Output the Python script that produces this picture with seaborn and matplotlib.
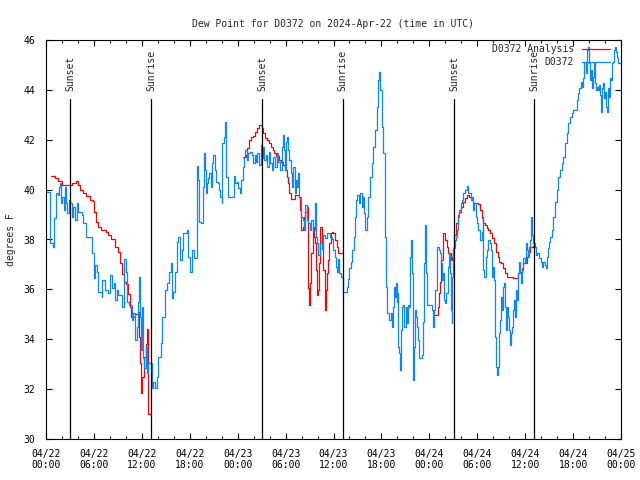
import numpy as np
import pandas as pd
import matplotlib
matplotlib.use('Agg')
import matplotlib.pyplot as plt
import matplotlib.dates as mdates
import matplotlib.transforms as mtransforms
from matplotlib.lines import Line2D
import seaborn as sns

# Hours since 2024-04-22 00:00 UTC, dew point (F)
station_day1 = [
    (0.0, 39.9), (0.5, 37.85), (0.85, 37.7), (1.0, 38.85), (1.25, 39.85), (1.45, 39.8), (1.67, 40.1),
    (1.8, 40.25), (1.92, 39.45), (2.05, 39.7), (2.25, 39.2), (2.35, 40.1), (2.45, 39.45), (2.6, 39.05),
    (2.84, 39.6), (3.0, 39.45), (3.2, 38.9), (3.4, 39.3), (3.6, 38.8), (3.84, 39.45), (4.05, 39.1),
    (4.5, 39.0), (4.67, 38.65), (4.97, 38.11), (5.72, 37.44), (6.01, 36.44), (6.14, 36.98), (6.35, 36.71),
    (6.55, 35.91), (6.97, 35.71), (7.05, 36.38), (7.39, 35.97), (7.72, 35.84), (8.01, 36.58), (8.22, 36.04),
    (8.51, 36.24), (8.64, 35.57), (8.85, 35.97), (9.06, 35.77), (9.47, 35.31), (9.81, 37.2), (9.97, 36.71),
    (10.18, 35.51), (10.43, 35.37), (10.73, 34.77), (10.85, 35.04), (11.14, 33.97), (11.35, 34.5),
    (11.56, 35.51), (11.68, 36.51), (11.77, 34.9), (11.9, 33.57), (12.06, 35.31), (12.19, 33.23),
    (12.31, 32.83), (12.52, 33.7), (12.6, 32.63), (12.73, 33.03), (13.23, 32.03), (13.44, 32.3),
    (13.65, 32.03), (13.86, 32.5), (14.07, 33.3), (14.36, 33.84), (14.57, 34.9), (14.9, 35.97),
    (15.11, 36.24), (15.4, 36.71), (15.65, 37.04), (15.82, 35.64), (15.94, 35.91), (16.15, 36.71),
    (16.36, 37.91), (16.57, 38.11), (16.78, 37.18), (16.99, 37.58), (17.2, 38.25), (17.61, 38.38),
    (17.82, 37.31), (18.03, 36.71), (18.24, 37.58), (18.53, 37.24), (18.87, 40.96), (19.07, 40.39),
    (19.2, 38.72), (19.45, 38.65), (19.6, 40.12), (19.78, 41.46), (19.9, 40.79), (20.0, 39.85),
    (20.1, 40.25), (20.3, 40.45), (20.45, 40.65), (20.6, 40.12), (20.75, 41.06), (20.95, 41.39),
    (21.1, 40.79), (21.3, 40.32), (21.5, 40.25), (21.7, 39.99), (21.85, 39.72), (22.0, 39.45),
    (22.1, 41.86), (22.25, 42.13), (22.4, 42.73), (22.5, 42.13), (22.6, 40.52), (22.8, 39.72),
    (23.5, 40.55), (23.66, 40.25), (23.87, 40.3),
]
station_day2 = [
    (24.08, 40.05), (24.29, 39.85), (24.42, 40.39), (24.63, 40.92), (24.79, 41.32), (24.96, 41.59),
    (25.13, 41.19), (25.34, 41.48), (25.54, 41.52), (25.75, 41.39), (25.96, 41.06), (26.17, 41.39),
    (26.3, 41.12), (26.46, 41.46), (26.71, 40.99), (26.88, 41.79), (27.0, 41.26), (27.21, 41.72),
    (27.34, 41.19), (27.55, 41.39), (27.72, 40.92), (27.88, 41.52), (28.05, 41.06), (28.26, 40.79),
    (28.47, 41.32), (28.68, 40.92), (28.89, 41.46), (29.09, 41.12), (29.3, 40.79), (29.51, 41.72),
    (29.72, 42.19), (29.84, 41.59), (29.93, 40.79), (30.05, 41.92), (30.22, 42.13), (30.35, 41.59),
    (30.47, 41.19), (30.64, 40.65), (30.76, 40.12), (30.97, 40.92), (31.18, 39.85), (31.3, 40.39),
    (31.47, 40.12), (31.6, 40.65), (31.72, 39.72), (31.89, 38.92), (32.14, 38.78), (32.31, 38.38),
    (32.43, 39.39), (32.64, 38.78), (32.85, 38.65), (33.06, 38.38), (33.18, 38.78), (33.39, 38.38),
    (33.68, 39.45), (33.81, 38.12), (33.89, 37.85), (34.1, 37.38), (34.31, 37.85), (34.52, 37.6),
    (34.73, 38.2), (34.94, 38.05), (35.15, 38.25), (35.56, 38.1), (35.77, 38.0), (35.98, 37.58),
    (36.19, 37.3), (36.31, 36.9), (36.48, 36.7), (36.61, 37.2), (36.73, 36.65), (36.94, 36.51),
    (37.15, 36.38), (37.23, 35.91), (37.65, 36.1), (37.86, 36.4), (37.98, 36.84), (38.15, 37.1),
    (38.36, 37.58), (38.57, 38.11), (38.69, 38.92), (38.82, 39.58), (38.98, 39.79), (39.15, 39.45),
    (39.32, 39.85), (39.53, 39.32), (39.65, 39.72), (39.82, 39.05), (39.99, 38.38), (40.15, 38.92),
    (40.36, 39.72), (40.57, 40.52), (40.78, 41.06), (40.99, 41.72), (41.2, 42.39), (41.41, 43.33),
    (41.62, 44.4), (41.74, 44.73), (41.87, 43.99), (42.04, 42.53), (42.24, 41.46), (42.45, 39.72),
    (42.5, 38.12), (42.57, 36.1), (42.66, 35.04), (42.99, 34.77), (43.16, 35.04), (43.28, 34.5),
    (43.41, 35.31), (43.58, 36.11), (43.7, 35.71), (43.83, 36.24), (43.91, 35.51), (44.04, 35.84),
    (44.12, 33.7), (44.25, 33.43), (44.33, 32.77), (44.41, 34.37), (44.54, 35.31), (44.75, 35.37),
    (44.87, 34.5), (45.04, 35.31), (45.16, 34.64), (45.33, 35.37), (45.5, 35.31), (45.62, 37.31),
    (45.75, 37.98), (45.83, 36.64), (45.91, 33.7), (46.0, 32.37), (46.08, 33.7), (46.2, 35.17),
    (46.33, 34.9), (46.5, 34.5), (46.62, 33.97), (46.75, 33.23), (47.08, 33.37), (47.25, 34.7),
    (47.37, 37.04), (47.5, 38.6), (47.63, 36.64), (47.75, 35.37),
]
station_day3 = [
    (48.08, 35.37), (48.29, 35.17), (48.42, 34.77), (48.5, 34.5), (48.63, 35.17), (48.75, 35.97),
    (48.92, 36.38), (49.0, 37.71), (49.17, 37.58), (49.34, 37.44), (49.46, 37.04), (49.59, 36.38),
    (49.75, 36.64), (49.88, 35.57), (50.0, 35.44), (50.13, 35.84), (50.3, 36.91), (50.42, 37.44),
    (50.55, 36.64), (50.67, 35.17), (50.8, 34.64), (50.88, 36.51), (51.0, 37.65), (51.17, 37.98),
    (51.34, 38.11), (51.42, 38.4), (51.63, 38.92), (51.75, 39.2), (51.92, 39.45), (52.09, 39.58),
    (52.26, 39.85), (52.47, 39.99), (52.67, 40.15), (52.84, 39.85), (53.01, 39.85), (53.18, 39.58),
    (53.3, 39.72), (53.43, 39.18), (53.6, 39.45), (53.85, 38.92), (54.01, 38.65), (54.14, 38.38),
    (54.35, 37.98), (54.56, 38.31), (54.68, 38.92), (54.77, 36.78), (54.89, 36.51), (55.06, 37.31),
    (55.18, 37.58), (55.39, 37.98), (55.6, 37.85), (55.73, 37.58), (55.89, 36.51), (56.01, 36.91),
    (56.14, 36.38), (56.22, 34.1), (56.35, 32.9), (56.47, 32.57), (56.6, 32.9), (56.72, 34.24),
    (56.85, 34.77), (56.97, 35.71), (57.1, 35.17), (57.18, 36.11), (57.31, 36.24), (57.43, 35.31),
    (57.56, 34.37), (57.68, 34.64), (57.77, 35.31), (57.9, 34.9), (57.98, 34.37), (58.06, 33.77),
    (58.19, 34.24), (58.31, 34.5), (58.48, 35.17), (58.6, 35.57), (58.73, 34.9), (58.85, 35.97),
    (58.98, 35.57), (59.1, 36.64), (59.23, 37.11), (59.35, 36.64), (59.52, 36.24), (59.65, 36.78),
    (59.77, 37.24), (59.94, 37.04), (60.06, 37.85), (60.19, 37.58), (60.31, 37.31), (60.44, 37.71),
    (60.56, 37.98), (60.69, 38.92), (60.81, 38.2), (60.94, 37.85), (61.23, 37.71), (61.36, 37.38),
    (61.53, 37.44), (61.78, 37.24), (61.94, 37.11), (62.11, 36.91), (62.28, 37.11), (62.44, 36.98),
    (62.57, 36.84), (62.7, 37.31), (62.82, 37.65), (62.99, 37.91), (63.16, 38.11), (63.37, 38.38),
    (63.53, 38.92), (63.74, 39.52), (63.95, 39.99), (64.16, 40.52), (64.37, 40.79), (64.58, 41.06),
    (64.79, 41.32), (65.0, 41.86), (65.2, 42.26), (65.41, 42.66), (65.62, 42.93), (65.83, 43.06),
    (66.04, 43.19), (66.46, 43.59), (66.67, 43.86), (66.79, 44.06), (66.96, 44.33), (67.08, 44.13),
    (67.29, 44.46), (67.42, 45.13), (67.58, 44.66), (67.71, 45.6), (67.84, 45.73), (67.96, 45.06),
    (68.09, 44.4), (68.21, 44.8), (68.34, 44.06), (68.46, 44.53), (68.59, 45.06), (68.71, 44.26),
    (68.84, 43.99), (68.96, 44.13), (69.09, 43.99), (69.21, 44.2), (69.34, 43.79), (69.46, 43.13),
    (69.59, 44.06), (69.71, 44.26), (69.84, 43.66), (69.96, 43.93), (70.09, 43.33), (70.21, 43.13),
    (70.34, 44.06), (70.46, 43.73), (70.59, 44.46), (70.71, 44.4), (70.84, 45.06), (70.96, 45.13),
    (71.09, 45.6), (71.21, 45.73), (71.34, 45.53), (71.46, 45.33), (71.59, 45.06), (72.0, 45.06),
]

analysis_day1 = [
    (0.65, 40.55), (1.1, 40.45), (1.55, 40.33), (1.95, 40.2), (3.3, 40.25), (3.7, 40.33), (4.0, 40.2),
    (4.3, 40.0), (4.6, 39.85), (5.0, 39.75), (5.5, 39.6), (5.9, 39.55), (6.05, 39.1), (6.3, 38.7),
    (6.5, 38.5), (6.9, 38.38), (7.5, 38.3), (7.8, 38.2), (8.2, 38.0), (8.6, 37.7), (9.0, 37.5),
    (9.25, 37.05), (9.5, 36.6), (9.8, 36.3), (10.05, 36.2), (10.22, 35.8), (10.5, 35.3), (10.7, 34.9),
    (11.2, 35.0), (11.56, 35.1), (11.68, 34.1), (11.77, 33.05), (11.9, 31.85), (12.06, 32.5),
    (12.27, 33.3), (12.5, 33.8), (12.6, 34.4), (12.73, 32.7), (12.81, 31.0), (13.15, 31.0),
]
analysis_day2 = [
    (24.71, 41.32), (25.04, 41.39), (25.21, 41.66), (25.46, 41.99), (25.67, 42.1), (25.96, 42.15),
    (26.17, 42.33), (26.46, 42.46), (26.71, 42.59), (27.05, 42.46), (27.21, 42.26), (27.42, 42.06),
    (27.72, 41.99), (27.97, 41.88), (28.22, 41.72), (28.39, 41.59), (28.6, 41.46), (28.8, 41.35),
    (29.22, 41.19), (29.43, 41.12), (29.72, 40.99), (29.97, 40.79), (30.14, 40.52), (30.3, 40.25),
    (30.47, 39.85), (30.64, 39.61), (31.18, 39.79), (31.72, 39.72), (31.85, 39.18), (31.97, 38.38),
    (32.14, 38.51), (32.31, 38.92), (32.48, 39.12), (32.64, 39.32), (32.77, 38.78), (32.85, 36.04),
    (32.98, 35.37), (33.1, 36.24), (33.23, 37.44), (33.39, 38.25), (33.48, 38.51), (33.6, 38.1),
    (33.69, 37.85), (33.81, 36.78), (33.89, 35.77), (34.02, 35.97), (34.14, 37.04), (34.31, 38.51),
    (34.52, 37.85), (34.73, 36.78), (34.9, 35.44), (34.98, 35.17), (35.1, 35.97), (35.23, 36.64),
    (35.35, 37.18), (35.48, 37.85), (35.65, 38.25), (35.82, 38.31), (35.98, 38.25), (36.19, 37.98),
    (36.4, 37.71), (36.61, 37.44), (37.03, 37.44),
]
analysis_day3 = [
    (48.71, 34.97), (49.13, 35.31), (49.25, 35.84), (49.34, 36.31), (49.46, 37.18), (49.71, 38.25),
    (49.96, 37.98), (50.17, 37.71), (50.38, 37.44), (50.71, 37.18), (50.84, 37.31), (51.0, 37.65),
    (51.13, 38.2), (51.34, 38.65), (51.55, 38.98), (51.75, 39.12), (51.97, 39.32), (52.18, 39.52),
    (52.47, 39.65), (52.76, 39.79), (53.01, 39.72), (53.3, 39.58), (53.51, 39.48), (54.14, 39.42),
    (54.35, 39.18), (54.56, 38.85), (54.77, 38.65), (55.0, 38.58), (55.18, 38.45), (55.39, 38.38),
    (55.6, 38.25), (55.81, 38.05), (56.1, 37.85), (56.35, 37.51), (56.56, 37.31), (56.77, 37.11),
    (57.02, 37.04), (57.27, 36.84), (57.48, 36.64), (57.77, 36.51), (58.52, 36.44), (59.06, 36.64),
    (59.35, 36.7), (59.56, 36.84), (59.77, 37.04), (60.19, 37.31), (60.4, 37.51), (60.6, 37.71),
    (60.94, 37.74),
]

sunset_times = ['2024-04-22 03:03', '2024-04-23 03:05', '2024-04-24 03:06']
sunrise_times = ['2024-04-22 13:10', '2024-04-23 13:08', '2024-04-24 13:07']

start = pd.Timestamp('2024-04-22 00:00')
RED = '#ff0000'
BLUE = '#0a86ff'


def to_frame(segments):
    rows = []
    for seg, pairs in enumerate(segments):
        for h, v in pairs:
            rows.append({'time': start + pd.Timedelta(hours=h), 'dewpoint': v, 'segment': seg})
    return pd.DataFrame(rows)


station_df = to_frame([station_day1 + station_day2 + station_day3])
analysis_df = to_frame([analysis_day1, analysis_day2, analysis_day3])

sns.set_style('ticks')
plt.rcParams['font.family'] = ['DejaVu Sans Mono']
plt.rcParams['font.size'] = 7

fig = plt.figure(figsize=(6.4, 4.8), dpi=100)
ax = fig.add_axes([46 / 640, 41 / 480, 575 / 640, 399 / 480])

sns.lineplot(data=analysis_df, x='time', y='dewpoint', units='segment', estimator=None,
             color=RED, lw=0.9, drawstyle='steps-post', ax=ax, legend=False)
sns.lineplot(data=station_df, x='time', y='dewpoint', units='segment', estimator=None,
             color=BLUE, lw=0.9, drawstyle='steps-post', ax=ax, legend=False)

# sunrise / sunset markers
trans = mtransforms.blended_transform_factory(ax.transData, ax.transAxes)
for label, times in [('Sunset', sunset_times), ('Sunrise', sunrise_times)]:
    for t in pd.to_datetime(times):
        ax.axvline(t, ymin=0, ymax=0.852, color='black', lw=0.9)
        ax.text(t, 0.872, label, transform=trans, rotation=90, ha='center', va='bottom', fontsize=7)

ax.set_xlim(start, start + pd.Timedelta(hours=72))
ax.set_ylim(30, 46)
ax.set_yticks(np.arange(30, 47, 2))
ax.xaxis.set_major_locator(mdates.HourLocator(byhour=[0, 6, 12, 18]))
ax.xaxis.set_minor_locator(mdates.HourLocator(byhour=range(0, 24, 2)))
ax.xaxis.set_major_formatter(mdates.DateFormatter('%m/%d\n%H:%M'))

ax.tick_params(axis='both', which='major', direction='in', length=4, width=0.8,
               top=True, right=True, labelsize=7, colors='black')
ax.tick_params(axis='x', which='major', pad=7)
ax.tick_params(axis='y', which='major', pad=8)
ax.tick_params(axis='x', which='minor', direction='in', length=2, width=0.8, top=True)
for spine in ax.spines.values():
    spine.set_color('black')
    spine.set_linewidth(0.8)

ax.set_xlabel('')
ax.set_ylabel('degrees F', fontsize=7)
ax.yaxis.set_label_coords(-0.052, 0.5)
ax.set_title('Dew Point for D0372 on 2024-Apr-22 (time in UTC)', fontsize=7, pad=9.5)

handles = [Line2D([], [], color=RED, lw=0.9), Line2D([], [], color=BLUE, lw=0.9)]
ax.legend(handles, ['D0372 Analysis', 'D0372'], loc='upper right', frameon=False,
          markerfirst=False, handlelength=2.9, handletextpad=0.8, labelspacing=0.3,
          borderaxespad=0, borderpad=0, bbox_to_anchor=(1 - 11 / 575, 1 - 4 / 399), fontsize=7)

fig.savefig('out.png', dpi=100)
